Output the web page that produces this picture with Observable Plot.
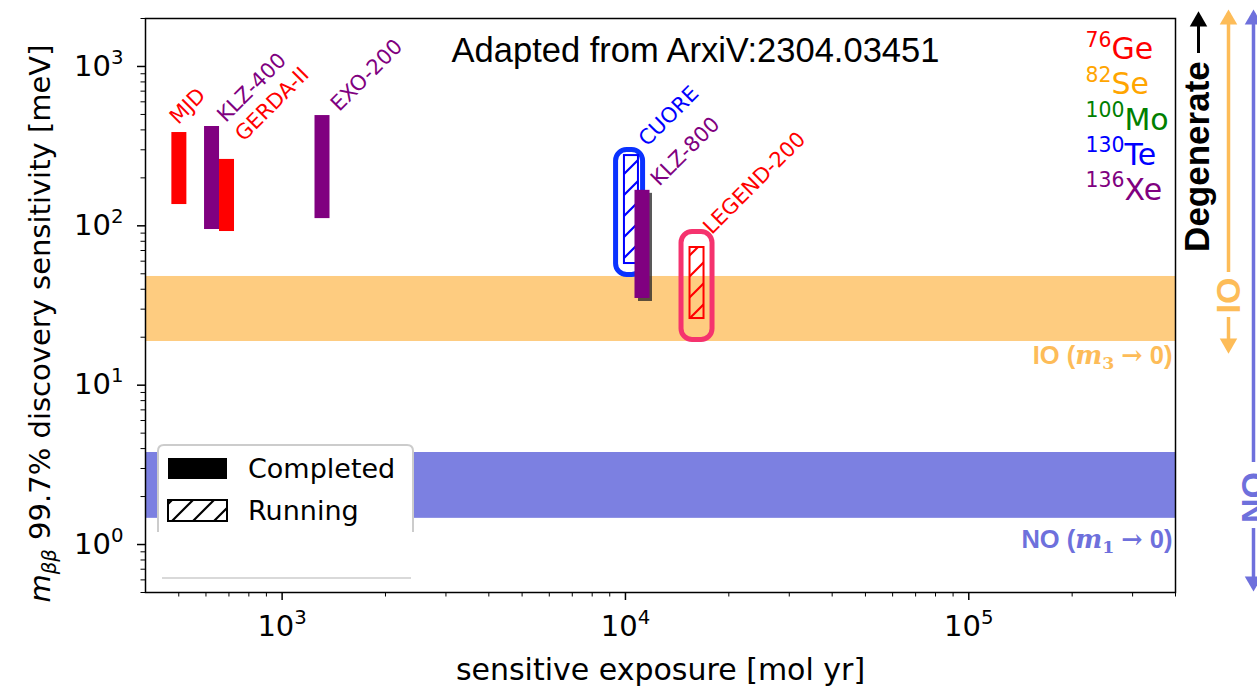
<!DOCTYPE html>
<html><head><meta charset="utf-8">
<script src="https://cdn.jsdelivr.net/npm/d3@7"></script>
<script src="https://cdn.jsdelivr.net/npm/@observablehq/plot@0.6"></script>
<style>
html,body{margin:0;padding:0;background:#fff;}
#chart{width:1257px;height:690px;overflow:hidden;}
</style></head><body><div id="chart"></div>
<script>
// ---------- data ----------
const experiments = ["MJD","KLZ-400","GERDA-II","EXO-200","CUORE","KLZ-800","LEGEND-200"];
const isotopeOf   = ["Ge","Xe","Ge","Xe","Te","Xe","Ge"];
const exposure    = [502, 625, 691, 1311, 10410, 11210, 16160];   // mol yr
const sensLow     = [136, 94.8, 92.1, 111, 58, 35, 26.2];          // meV
const sensHigh    = [385, 420, 261, 492, 276, 167, 73.1];          // meV
const status      = ["Completed","Completed","Completed","Completed","Running","Completed","Running"];

const highlightExp      = ["CUORE","LEGEND-200"];
const highlightExposure = [10280, 16160];
const highlightLow      = [49.1, 19.2];
const highlightHigh     = [299, 91.5];

const bandNames = ["IO","NO"];
const bandLow   = [18.8, 1.46];
const bandHigh  = [48.1, 3.78];

const isotopeMass   = ["76","82","100","130","136"];
const isotopeSymbol = ["Ge","Se","Mo","Te","Xe"];

const statusLabels = ["Completed","Running"];

const xMajor = [1e3, 1e4, 1e5];
const yMajor = [1, 10, 100, 1000];
const xMinor = [500,600,700,800,900,2000,3000,4000,5000,6000,7000,8000,9000,
                20000,30000,40000,50000,60000,70000,80000,90000,200000,300000,400000];
const yMinor = [0.5,0.6,0.7,0.8,0.9,2,3,4,5,6,7,8,9,20,30,40,50,60,70,80,90,
                200,300,400,500,600,700,800,900,2000];

// ---------- styles ----------
const isoColor = {Ge:"#ff0000", Se:"#ffa500", Mo:"#008000", Te:"#0000ff", Xe:"#800080"};
const bandColor = {IO:"#fecc80", NO:"#7c80e1"};
const ioColor = "#fdbc58", noColor = "#6e70dc";
const hlStyle = {"CUORE": {color:"#0a32ff", half:13.5}, "LEGEND-200": {color:"#f5336e", half:15.5}};
const labelOffset = {"MJD":[-6,-12], "KLZ-400":[9,-8], "GERDA-II":[12,-22], "EXO-200":[12,-8],
                     "CUORE":[11,-13], "KLZ-800":[12,-8], "LEGEND-200":[10,-17]};

const rows = experiments.map((name,i)=>({name, iso: isotopeOf[i], x: exposure[i], lo: sensLow[i], hi: sensHigh[i], status: status[i]}));
const bands = bandNames.map((n,i)=>({n, lo: bandLow[i], hi: bandHigh[i]}));
const highlights = highlightExp.map((n,i)=>({n, x: highlightExposure[i], lo: highlightLow[i], hi: highlightHigh[i]}));
const completed = rows.filter(d=>d.status==="Completed");
const running = rows.filter(d=>d.status==="Running");
const XR = 4e5; // right edge of the x domain (annotations hang off it)

const marks = [
  Plot.rect(bands, {y1:"lo", y2:"hi", fill: d=>bandColor[d.n]}),
  ...highlights.map(d => Plot.rect([d], {x1:"x", x2:"x", y1:"lo", y2:"hi",
      insetLeft:-hlStyle[d.n].half, insetRight:-hlStyle[d.n].half, rx:11,
      fill:"none", stroke: hlStyle[d.n].color, strokeWidth:5})),
  ...running.map(d => Plot.rect([d], {x1:"x", x2:"x", y1:"lo", y2:"hi",
      insetLeft:-7, insetRight:-7, fill:`url(#hatch-${d.iso})`, stroke: isoColor[d.iso], strokeWidth:2})),
  Plot.rect(completed.filter(d=>d.name==="KLZ-800"), {x1:"x", x2:"x", y1:"lo", y2:"hi",
      insetLeft:-7, insetRight:-7, fill:"#222", fillOpacity:0.75, dx:3, dy:3}),
  Plot.rect(completed, {x1:"x", x2:"x", y1:"lo", y2:"hi", insetLeft:-7.5, insetRight:-7.5,
      fill: d=>isoColor[d.iso]}),
  ...rows.map(d => Plot.text([d], {x:"x", y:"hi", text:"name", rotate:-45, textAnchor:"start", lineAnchor:"middle",
      fill: isoColor[d.iso], fontSize:21, dx: labelOffset[d.name][0], dy: labelOffset[d.name][1]})),
  // title
  Plot.text(["Adapted from ArxiV:2304.03451"], {text:d=>d, frameAnchor:"top", lineAnchor:"middle", textAnchor:"middle",
      dx:35, dy:32, fontFamily:"Liberation Sans", fontSize:34.5, fill:"black"}),
  // isotope legend
  ...isotopeSymbol.map((s,i) => Plot.text([`s:${isotopeMass[i]}|${s}`], {text:d=>d, frameAnchor:"top-right",
      lineAnchor:"middle", textAnchor:"start", dx:-90, dy:31+35.2*i, fontSize:30, fill: isoColor[s]})),
  // band labels
  Plot.text(["IO (|fi:m|fu:3| |f:→| 0)"], {text:d=>d, x:XR, y:bandLow[0], dx:-3, dy:14, textAnchor:"end",
      fontWeight:"bold", fontSize:25.5, fontFamily:"Liberation Sans", fill: ioColor}),
  Plot.text(["NO (|fi:m|fu:1| |f:→| 0)"], {text:d=>d, x:XR, y:bandLow[1], dx:-3, dy:21, textAnchor:"end",
      fontWeight:"bold", fontSize:25.5, fontFamily:"Liberation Sans", fill: noColor}),
  // right-hand ordering arrows
  Plot.ruleX([XR], {y1:1206, y2:2100, dx:23, stroke:"black", strokeWidth:3}),
  Plot.dot([XR], {x:d=>d, y:2182, dx:23, dy:9, symbol:"triangle", r:6.5, fill:"black", stroke:null}),
  Plot.text(["Degenerate"], {text:d=>d, x:XR, y:272, dx:22, rotate:-90, fontWeight:"bold",
      fontSize:35, fontFamily:"Liberation Sans", fill:"black"}),
  Plot.ruleX([XR], {y1:50.9, y2:2150, dx:53, stroke:ioColor, strokeWidth:3.5}),
  Plot.dot([XR], {x:d=>d, y:2245, dx:53, dy:9, symbol:"triangle", r:6.5, fill:ioColor, stroke:null}),
  Plot.text(["IO"], {text:d=>d, x:XR, y:36.5, dx:54, rotate:-90, fontWeight:"bold",
      fontSize:34, fontFamily:"Liberation Sans", fill:ioColor}),
  Plot.ruleX([XR], {y1:17.5, y2:26.6, dx:53, stroke:ioColor, strokeWidth:3.5}),
  Plot.dot([XR], {x:d=>d, y:16.0, dx:53, dy:-9, rotate:180, symbol:"triangle", r:6.5, fill:ioColor, stroke:null}),
  Plot.ruleX([XR], {y1:3.27, y2:2150, dx:78, stroke:noColor, strokeWidth:3.5}),
  Plot.dot([XR], {x:d=>d, y:2245, dx:78, dy:9, symbol:"triangle", r:6.5, fill:noColor, stroke:null}),
  Plot.text(["NO"], {text:d=>d, x:XR, y:1.97, dx:79, rotate:-90, fontWeight:"bold",
      fontSize:34, fontFamily:"Liberation Sans", fill:noColor}),
  Plot.ruleX([XR], {y1:0.56, y2:1.26, dx:78, stroke:noColor, strokeWidth:3.5}),
  Plot.dot([XR], {x:d=>d, y:0.515, dx:78, dy:-9, rotate:180, symbol:"triangle", r:6.5, fill:noColor, stroke:null}),
  // axes
  Plot.axisX({ticks: xMinor, tickSize:4.5, tickFormat:()=>"", strokeWidth:1, label:null}),
  Plot.axisX({ticks: xMajor, tickSize:8, tickPadding:15, strokeWidth:1.5, label:null,
      tickFormat: d=>`10|s:${Math.round(Math.log10(d))}`, fontSize:29}),
  Plot.axisY({ticks: yMinor, tickSize:4.5, tickFormat:()=>"", strokeWidth:1, label:null}),
  Plot.axisY({ticks: yMajor, tickSize:8, tickPadding:14, strokeWidth:1.5, label:null,
      tickFormat: d=>`10|s:${Math.round(Math.log10(d))}`, fontSize:29}),
  Plot.text(["sensitive exposure [mol yr]"], {text:d=>d, frameAnchor:"bottom", lineAnchor:"middle", textAnchor:"middle",
      dy:78, fontSize:30, fill:"black"}),
  Plot.text(["i:m|iu:ββ| 99.7% discovery sensitivity [meV]"], {text:d=>d, frameAnchor:"left", lineAnchor:"middle",
      textAnchor:"middle", dx:-105, dy:18, rotate:-90, fontSize:29, fill:"black"}),
  Plot.frame({stroke:"black", strokeWidth:1.5})
];

const plot = Plot.plot({
  width:1257, height:690,
  marginLeft:145, marginRight:82, marginTop:18, marginBottom:98,
  x:{type:"log", domain:[400, 4e5]},
  y:{type:"log", domain:[0.5, 2000]},
  style:{fontFamily:"DejaVu Sans", fontSize:"29px", background:"white", color:"black", overflow:"visible"},
  marks
});
document.getElementById("chart").appendChild(plot);

// hatch patterns
const svg = d3.select(plot);
const defs = svg.insert("defs", ":first-child");
function addHatch(id, color) {
  const p = defs.append("pattern").attr("id", id).attr("patternUnits","userSpaceOnUse")
    .attr("width",21).attr("height",21);
  p.append("path").attr("d","M-5.25,5.25 L5.25,-5.25 M0,21 L21,0 M15.75,26.25 L26.25,15.75")
    .attr("stroke", color).attr("stroke-width",2.2).attr("fill","none");
}
Object.entries(isoColor).forEach(([k,c]) => addHatch(`hatch-${k}`, c));
addHatch("hatch-black", "black");

// legend (Completed / Running)
const lg = svg.append("g");
lg.append("rect").attr("x",158).attr("y",445).attr("width",255).attr("height",133).attr("fill","white");
lg.append("path").attr("d","M158,532 V451 Q158,445 164,445 H407 Q413,445 413,451 V532")
  .attr("fill","none").attr("stroke","#cccccc").attr("stroke-width",2);
lg.append("path").attr("d","M162,578 H411").attr("stroke","#cccccc").attr("stroke-width",1.5);
statusLabels.forEach((s,i) => {
  const y0 = 458 + i*42;
  lg.append("rect").attr("x",168).attr("y",y0).attr("width",59).attr("height",21)
    .attr("fill", s==="Completed" ? "black" : "url(#hatch-black)")
    .attr("stroke","black").attr("stroke-width", s==="Completed" ? 0 : 2);
  lg.append("text").attr("x",248).attr("y",y0+20).attr("font-size",27).attr("font-family","DejaVu Sans")
    .attr("text-anchor","start").attr("fill","black").text(s);
});

// rich text: superscripts / subscripts / italics
function richify(root) {
  root.querySelectorAll("text").forEach(t => {
    if (t.children.length) return;
    const s = t.textContent;
    if (!s.includes("|")) return;
    const fs = parseFloat(getComputedStyle(t).fontSize);
    t.textContent = "";
    let cur = 0;
    for (const part of s.split("|")) {
      if (!part) continue;
      const m = /^([a-z]+):(.*)$/.exec(part);
      const flags = m ? m[1] : "";
      const txt = m ? m[2] : part;
      const ts = document.createElementNS("http://www.w3.org/2000/svg","tspan");
      const sup = flags.includes("s"), sub = flags.includes("u");
      const shift = sup ? -0.42*fs : sub ? 0.22*fs : 0;
      if (shift !== cur) { ts.setAttribute("dy", (shift-cur).toFixed(2)); cur = shift; }
      if (sup || sub) ts.setAttribute("font-size", (0.68*fs).toFixed(2));
      if (flags.includes("i")) ts.setAttribute("font-style","italic");
      if (flags.includes("f")) ts.setAttribute("font-family","DejaVu Serif");
      ts.textContent = txt;
      t.appendChild(ts);
    }
  });
}
richify(plot);
</script></body></html>
